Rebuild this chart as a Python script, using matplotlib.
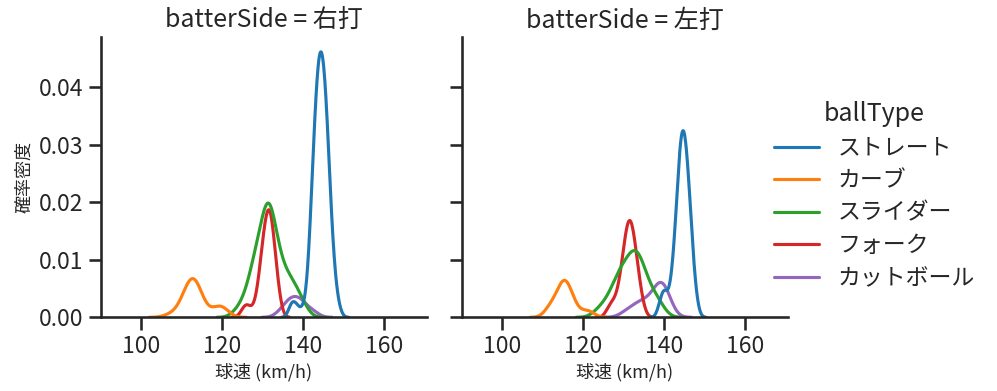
import numpy as np
import pandas as pd
import matplotlib
matplotlib.use('Agg')
import matplotlib.pyplot as plt
import seaborn as sns
from matplotlib.lines import Line2D

ball_types = ['ストレート', 'カーブ', 'スライダー', 'フォーク', 'カットボール']
batter_sides = ['右打', '左打']
speed_ticks = [100, 120, 140, 160]

# number of pitches at each speed (km/h), right-handed batters
right_straight = {137: 2, 138: 2, 139: 1, 140: 1, 141: 3, 142: 13, 143: 25,
                  144: 32, 145: 31, 146: 23, 147: 11, 148: 4, 149: 1}
right_curve = {107: 1, 109: 1, 110: 2, 111: 3, 112: 6, 113: 6, 114: 5, 115: 2,
               116: 1, 118: 1, 119: 2, 120: 2, 121: 1}
right_slider = {123: 1, 124: 1, 125: 2, 126: 3, 127: 5, 128: 8, 129: 9, 130: 11,
                131: 16, 132: 16, 133: 10, 134: 8, 135: 6, 136: 5, 137: 5, 138: 4,
                139: 3, 140: 2, 141: 1}
right_fork = {125: 1, 126: 2, 127: 1, 128: 1, 129: 4, 130: 9, 131: 13, 132: 14,
              133: 8, 134: 3}
right_cutter = {134: 1, 135: 1, 136: 2, 137: 3, 138: 2, 139: 3, 140: 2, 141: 1,
                142: 1, 143: 1}

# left-handed batters
left_straight = {139: 2, 140: 4, 141: 2, 142: 5, 143: 12, 144: 22, 145: 23,
                 146: 17, 147: 8, 148: 2}
left_curve = {111: 1, 112: 2, 113: 2, 114: 3, 115: 6, 116: 5, 117: 3, 118: 2,
              120: 1, 121: 1, 122: 1}
left_slider = {123: 1, 124: 1, 125: 2, 126: 2, 127: 3, 128: 5, 129: 6, 130: 6,
               131: 7, 132: 8, 133: 9, 134: 8, 135: 6, 136: 4, 137: 3, 138: 3,
               139: 2, 140: 1}
left_fork = {126: 1, 127: 2, 128: 2, 129: 4, 130: 8, 131: 12, 132: 12, 133: 8,
             134: 4, 135: 1}
left_cutter = {130: 1, 131: 1, 132: 1, 133: 2, 134: 2, 135: 2, 136: 2, 137: 3,
               138: 3, 139: 6, 140: 5, 141: 3, 142: 1}

pitches = {
    ('右打', 'ストレート'): right_straight,
    ('右打', 'カーブ'): right_curve,
    ('右打', 'スライダー'): right_slider,
    ('右打', 'フォーク'): right_fork,
    ('右打', 'カットボール'): right_cutter,
    ('左打', 'ストレート'): left_straight,
    ('左打', 'カーブ'): left_curve,
    ('左打', 'スライダー'): left_slider,
    ('左打', 'フォーク'): left_fork,
    ('左打', 'カットボール'): left_cutter,
}

# one row per pitch
rows = []
for (side, bt), counts in pitches.items():
    for speed, n in counts.items():
        rows += [(side, bt, speed)] * n
df = pd.DataFrame(rows, columns=['batterSide', 'ballType', '球速'])

sns.set_theme(style='ticks', context='talk', palette='tab10')
plt.rcParams['font.family'] = ['Noto Sans CJK JP', 'DejaVu Sans']

# densities are normalised over both panels together (common_norm)
g = sns.displot(df, x='球速', hue='ballType', col='batterSide', kind='kde',
                hue_order=ball_types, col_order=batter_sides, legend=False,
                height=4, aspect=1)
fig = g.figure
fig.set_size_inches(9.97, 3.91)
g.axes[0][0].set_position([0.1013, 0.1885, 0.3270, 0.7177])
g.axes[0][1].set_position([0.4634, 0.1885, 0.3270, 0.7177])
g.set(xlim=(90.1, 170.6), ylim=(0, 0.0488), xticks=speed_ticks)
g.set_axis_labels('球速 (km/h)', '確率密度', fontsize=13)

palette = sns.color_palette('tab10')
handles = [Line2D([], [], color=palette[i], lw=2.25) for i in range(len(ball_types))]
fig.legend(handles, ball_types, title='ballType', loc='center',
           bbox_to_anchor=(0.877, 0.5), frameon=False, labelspacing=0.42)

fig.savefig('out.png', dpi=100)
